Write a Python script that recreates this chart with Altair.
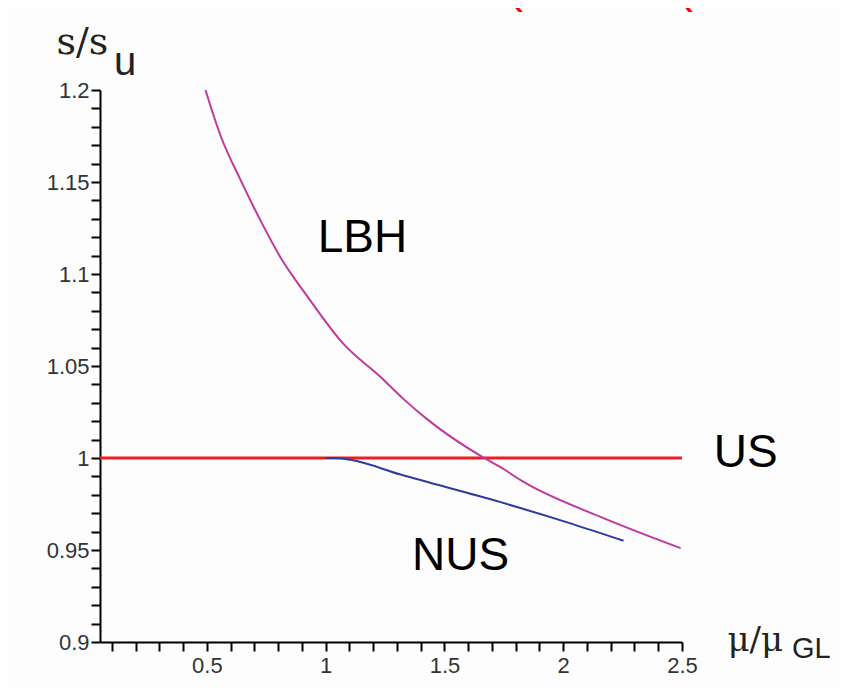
import altair as alt
import pandas as pd

# ---- data ----
lbh_x = [0.494, 0.558, 0.642, 0.726, 0.810, 0.922, 1.075, 1.231, 1.328, 1.428, 1.654, 1.736, 1.833, 2.157, 2.494]
lbh_y = [1.200, 1.175, 1.151, 1.129, 1.109, 1.088, 1.062, 1.044, 1.032, 1.021, 1.001, 0.995, 0.987, 0.968, 0.951]

nus_x = [1.000, 1.042, 1.105, 1.315, 1.736, 2.017, 2.254]
nus_y = [1.000, 1.000, 0.999, 0.991, 0.976, 0.965, 0.955]

us_x = [0.05, 2.5]
us_y = [1.0, 1.0]

labels_text = ["LBH", "US", "NUS"]
labels_x = [1.155, 2.768, 1.568]
labels_y = [1.112, 0.995, 0.939]

y_ticks = [round(0.9 + 0.01 * i, 2) for i in range(31)]
x_ticks = [round(0.1 * i, 1) for i in range(1, 26)]

X_DOMAIN = [0.05, 2.5]
Y_DOMAIN = [0.9, 1.2]

def series(xs, ys, name):
    return pd.DataFrame({"x": xs, "y": ys, "i": list(range(len(xs))), "s": name})

lbh_df = series(lbh_x, lbh_y, "LBH")
nus_df = series(nus_x, nus_y, "NUS")
us_df = series(us_x, us_y, "US")
lab_df = pd.DataFrame({"x": labels_x, "y": labels_y, "t": labels_text})

x_axis = alt.Axis(
    values=x_ticks,
    labelExpr="abs(datum.value*2 - round(datum.value*2)) < 0.001 ? format(datum.value, '.1~f') : ''",
    grid=False, domainColor="black", domainWidth=2, tickColor="black", tickWidth=2, tickSize=9,
    labelFont="Liberation Sans", labelFontSize=22, labelColor="#333333", labelPadding=4,
    labelOverlap=False, labelFlush=False,
    title="μ/μ", titleFont="DejaVu Serif", titleFontSize=34, titleFontWeight="normal",
    titleColor="#222222", titleAngle=0, titleAlign="left", titleBaseline="alphabetic",
    titleX=627, titleY=8,
)
y_axis = alt.Axis(
    values=y_ticks,
    labelExpr="abs(datum.value*20 - round(datum.value*20)) < 0.001 ? format(datum.value, '.2~f') : ''",
    grid=False, domainColor="black", domainWidth=2, tickColor="black", tickWidth=2, tickSize=9,
    labelFont="Liberation Sans", labelFontSize=22, labelColor="#333333", labelPadding=2,
    labelOverlap=False, labelFlush=False,
    title="s/s", titleFont="DejaVu Serif", titleFontSize=38, titleFontWeight="normal",
    titleColor="#222222", titleAngle=0, titleAlign="left", titleBaseline="alphabetic",
    titleX=-44, titleY=-37,
)

xs = alt.Scale(domain=X_DOMAIN, nice=False, zero=False)
ys = alt.Scale(domain=Y_DOMAIN, nice=False, zero=False)

X = alt.X("x:Q", scale=xs, axis=x_axis)
Y = alt.Y("y:Q", scale=ys, axis=y_axis)

def line(df, color, width, interp="linear"):
    return alt.Chart(df).mark_line(color=color, strokeWidth=width, clip=False, interpolate=interp).encode(
        x=X, y=Y, order="i:O",
    )

us = line(us_df, "#f01c24", 3)
lbh = line(lbh_df, "#c0399e", 2, "monotone")
nus = line(nus_df, "#2b3c9e", 2, "monotone")

texts = alt.Chart(lab_df).mark_text(
    font="Liberation Sans", fontSize=46, color="black", align="center", baseline="alphabetic"
).encode(x=X, y=Y, text="t:N")

sub_u = alt.Chart(pd.DataFrame({"t": ["u"]})).mark_text(
    font="Liberation Sans", fontSize=40, color="#222222", align="left", baseline="alphabetic"
).encode(x=alt.value(14), y=alt.value(-15), text="t:N")

sub_gl = alt.Chart(pd.DataFrame({"t": ["GL"]})).mark_text(
    font="Liberation Sans", fontSize=29, color="#222222", align="left", baseline="alphabetic"
).encode(x=alt.value(692), y=alt.value(568), text="t:N")

# bottoms of a red heading cut off at the top edge of the picture
paren1 = alt.Chart(pd.DataFrame({"t": ["("]})).mark_text(
    font="Liberation Sans", fontSize=48, color="#ff0000", align="left", baseline="alphabetic"
).encode(x=alt.value(407), y=alt.value(-88), text="t:N")
paren2 = alt.Chart(pd.DataFrame({"t": ["("]})).mark_text(
    font="Liberation Sans", fontSize=48, color="#ff0000", align="left", baseline="alphabetic"
).encode(x=alt.value(577), y=alt.value(-88), text="t:N")

chart = alt.layer(us, lbh, nus, texts, sub_u, sub_gl, paren1, paren2).properties(
    width=582,
    height=552,
    autosize=alt.AutoSizeParams(type="none"),
    padding={"left": 92, "top": 82, "right": 158, "bottom": 46},
    background="#fdfdfd",
).configure_view(stroke=None)

chart.save("out.html", embed_options={"renderer": "svg", "actions": False})
